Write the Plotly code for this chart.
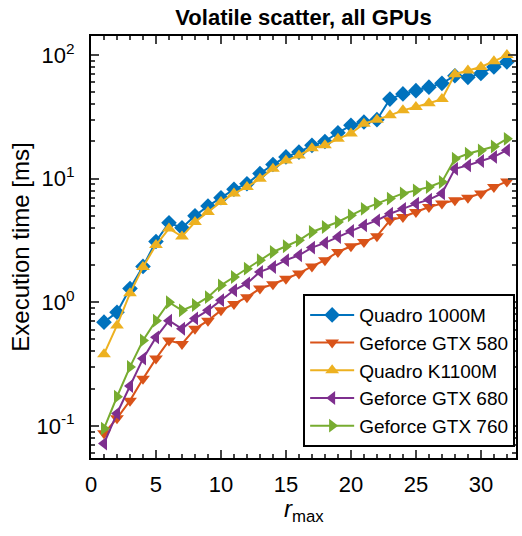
import plotly.graph_objects as go

r_max = list(range(1, 33))

quadro_1000m = [0.69, 0.83, 1.29, 1.95, 3.1, 4.4, 4.0, 5.0, 6.0, 7.0, 8.2, 9.1, 11.0, 13.0, 15.0, 16.4, 18.6, 20.0, 23.5, 27.0, 28.7, 30.0,
                44.0, 48.5, 51.5, 55.0, 59.0, 68.0, 66.0, 71.0, 80.0, 88.0]
geforce_580 = [0.087, 0.115, 0.16, 0.24, 0.35, 0.49, 0.46, 0.61, 0.71, 0.86, 0.97, 1.1, 1.29, 1.4, 1.55, 1.71, 1.95, 2.19, 2.55, 2.84, 3.07, 3.42,
               4.6, 4.9, 5.37, 5.9, 6.28, 6.68, 7.0, 7.6, 8.55, 9.5]
quadro_k1100m = [0.38, 0.65, 1.18, 1.93, 2.9, 3.95, 3.4, 4.46, 5.37, 6.47, 7.6, 8.55, 10.0, 12.0, 14.0, 15.4, 17.6, 18.6, 21.0, 23.2, 27.8, 30.0,
                 32.5, 35.7, 38.0, 40.7, 44.0, 70.0, 75.0, 80.0, 89.0, 100.0]
geforce_680 = [0.072, 0.126, 0.21, 0.35, 0.52, 0.71, 0.61, 0.74, 0.86, 1.04, 1.25, 1.42, 1.76, 1.93, 2.19, 2.4, 2.77, 3.02, 3.37, 3.77, 4.19, 4.6,
               5.2, 5.7, 6.28, 6.76, 7.6, 12.0, 12.8, 13.9, 15.0, 17.0]
geforce_760 = [0.095, 0.172, 0.30, 0.49, 0.71, 1.0, 0.86, 0.95, 1.1, 1.37, 1.6, 1.87, 2.19, 2.55, 2.84, 3.17, 3.7, 4.06, 4.46, 5.05, 5.7, 6.28,
               6.9, 7.6, 8.04, 8.55, 9.4, 14.5, 15.9, 16.9, 18.2, 21.0]

series_names = ["Quadro 1000M", "Geforce GTX 580", "Quadro K1100M", "Geforce GTX 680", "Geforce GTX 760"]
series_values = [quadro_1000m, geforce_580, quadro_k1100m, geforce_680, geforce_760]
colors = ["#0072BD", "#D95319", "#EDB120", "#7E2F8E", "#77AC30"]
symbols = ["diamond", "triangle-down", "triangle-up", "triangle-left", "triangle-right"]

y_tick_vals = [0.1, 1, 10, 100]
y_tick_text = ["10<sup>-1</sup>", "10<sup>0</sup>", "10<sup>1</sup>", "10<sup>2</sup>"]
x_tick_vals = [0, 5, 10, 15, 20, 25, 30]

y_minor_vals = [m * d for d in (0.01, 0.1, 1, 10, 100) for m in range(2, 10)]

fig = go.Figure()
for name, vals, c, s in zip(series_names, series_values, colors, symbols):
    fig.add_trace(go.Scatter(
        x=r_max, y=vals, name=name, mode="lines+markers",
        line=dict(color=c, width=2),
        marker=dict(symbol=s, size=12, color=c, line=dict(width=0)),
    ))

font_family = "Liberation Sans, Arial, sans-serif"
fig.update_layout(
    width=522, height=536,
    margin=dict(l=91, r=4, t=36, b=78),
    paper_bgcolor="white", plot_bgcolor="white",
    font=dict(family=font_family, size=22, color="black"),
    title=dict(text="<b>Volatile scatter, all GPUs</b>", x=0.5, xref="paper", xanchor="center",
               y=1 - 17 / 536, yref="container", yanchor="middle", font=dict(size=22, color="black")),
    showlegend=True,
    legend=dict(x=0.998, xanchor="right", y=0.026, yanchor="bottom",
                bordercolor="black", borderwidth=2, bgcolor="white",
                font=dict(size=19), tracegroupgap=0, itemwidth=44),
    annotations=[dict(text="<i>r</i><sub>max</sub>", xref="paper", yref="paper", x=0.5, y=0,
                      xanchor="center", yanchor="top", yshift=-35, showarrow=False,
                      font=dict(size=24, color="black"))],
)
fig.update_xaxes(
    range=[0, 32.7], tickvals=x_tick_vals, ticks="inside", ticklen=8, tickwidth=2,
    showline=True, linewidth=2, linecolor="black", mirror="ticks",
    showgrid=False, zeroline=False,
    minor=dict(ticks="inside", ticklen=4, tickwidth=1.5, dtick=1, showgrid=False),
    tickfont=dict(size=22), ticklabelstandoff=6,
)
fig.update_yaxes(
    type="log", range=[-1.26, 2.154], tickvals=y_tick_vals, ticktext=y_tick_text,
    ticks="inside", ticklen=8, tickwidth=2,
    showline=True, linewidth=2, linecolor="black", mirror="ticks",
    showgrid=False, zeroline=False,
    minor=dict(ticks="inside", ticklen=4, tickwidth=1.5, tickvals=y_minor_vals, showgrid=False),
    title=dict(text="Execution time [ms]", standoff=0, font=dict(size=24)),
    tickfont=dict(size=22), ticklabelstandoff=10,
)
fig.write_html("out.html", config={"displayModeBar": False},
               post_script="document.body.style.margin='0';")
